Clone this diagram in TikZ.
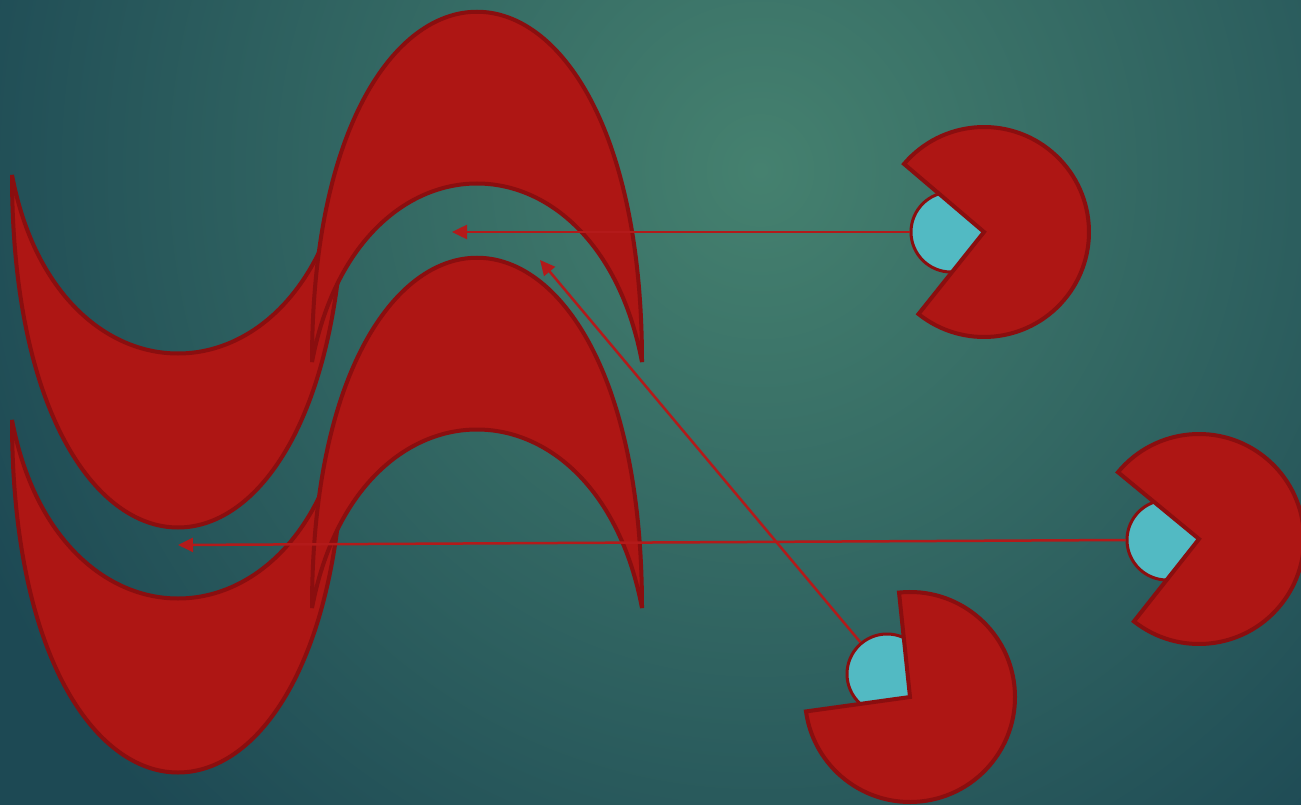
\documentclass[tikz,border=0pt]{standalone}
\usetikzlibrary{arrows.meta}
\definecolor{bgdark}{HTML}{1D4954}
\definecolor{bglight}{HTML}{45816F}
\definecolor{shapered}{HTML}{AE1614}
\definecolor{edgered}{HTML}{8A0E0F}
\definecolor{eyecyan}{HTML}{52BAC3}
\definecolor{arrowred}{HTML}{B31A1A}
\begin{document}
\begin{tikzpicture}[x=1pt,y=-1pt,
  crescent/.style={fill=shapered, draw=edgered, line width=4pt},
  pacman/.style={fill=shapered, draw=edgered, line width=4pt},
  eye/.style={circle, fill=eyecyan, draw=edgered, line width=3pt, minimum size=80pt, inner sep=0pt},
  link/.style={draw=arrowred, line width=2.5pt, -{Triangle[length=15pt,width=14pt]}}]
\useasboundingbox (0,0) rectangle (1301,805);
\clip (0,0) rectangle (1301,805);
% background
\fill[bgdark] (0,0) rectangle (1301,805);
\shade[inner color=bglight, outer color=bgdark] (760,170) ellipse [x radius=860, y radius=900];
% crescents (U shapes and arches)
\draw[crescent] (12,175) .. controls (12,645) and (344,645) .. (344,175)
  .. controls (299,413) and (57,413) .. (12,175) -- cycle;
\draw[crescent] (312,362) .. controls (312,-105) and (642,-105) .. (642,362)
  .. controls (597,124) and (357,124) .. (312,362) -- cycle;
\draw[crescent] (12,420) .. controls (12,890) and (344,890) .. (344,420)
  .. controls (299,658) and (57,658) .. (12,420) -- cycle;
\draw[crescent] (312,608) .. controls (312,141) and (642,141) .. (642,608)
  .. controls (597,370) and (357,370) .. (312,608) -- cycle;
% eyes
\node[eye] (e1) at (951,232) {};
\node[eye] (e2) at (1167,540) {};
\node[eye] (e3) at (887,674) {};
% arrow targets
\coordinate (t1) at (452,232);
\coordinate (t2) at (178,545);
\coordinate (t3) at (540,260);
\draw[link] (e1.west) -- (t1);
\draw[link] (e2.west) -- (t2);
\draw[link] (e3) -- (t3);
% pacmen
\coordinate (p1) at (984,232);
\coordinate (p2) at (1199,539);
\coordinate (p3) at (910,697);
\draw[pacman] (p1) -- ++(220.4:105) arc[start angle=220.4, end angle=488.6, radius=105] -- cycle;
\draw[pacman] (p2) -- ++(219.5:105) arc[start angle=219.5, end angle=488.3, radius=105] -- cycle;
\draw[pacman] (p3) -- ++(264:105) arc[start angle=264, end angle=532.1, radius=105] -- cycle;
\end{tikzpicture}
\end{document}
